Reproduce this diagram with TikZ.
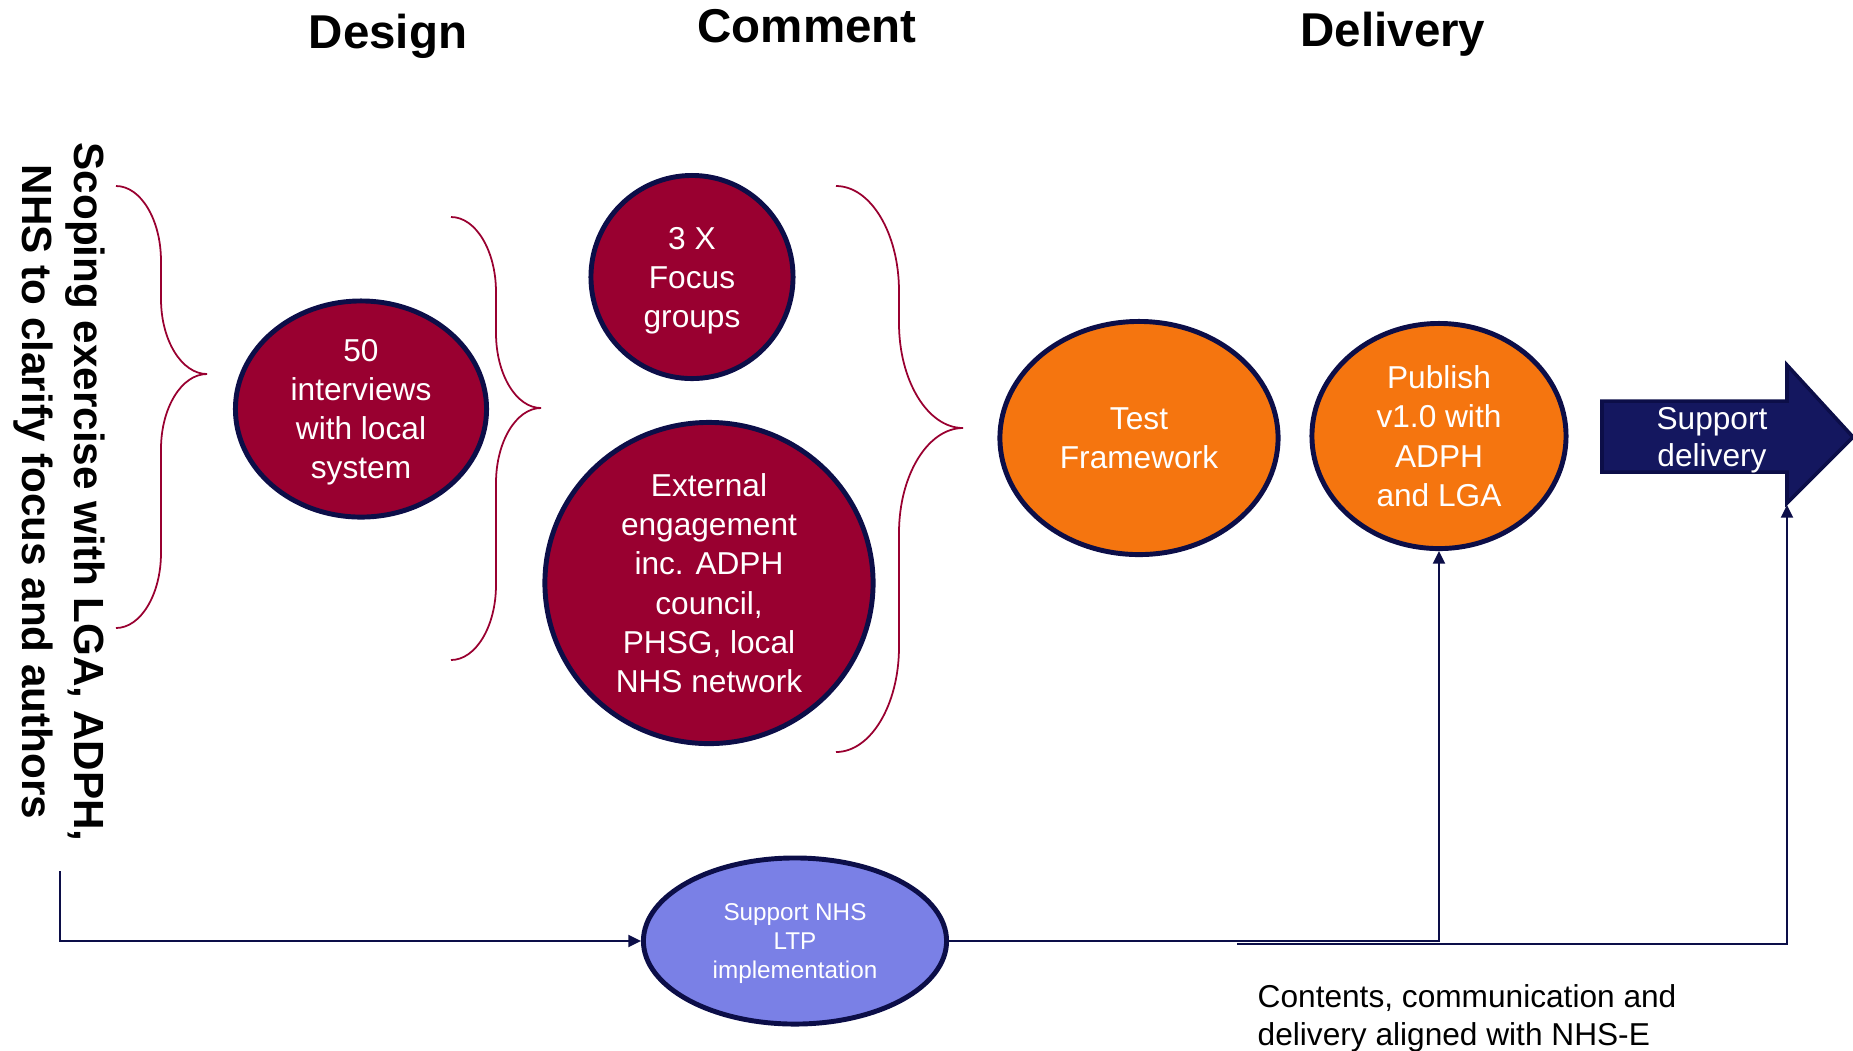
\documentclass[tikz,border=0pt]{standalone}
\usepackage{fontspec}
\setmainfont{Liberation Sans}
\usetikzlibrary{shapes.geometric,arrows.meta}
\definecolor{crim}{HTML}{990030}
\definecolor{navyb}{HTML}{0C0E48}
\definecolor{orng}{HTML}{F5750F}
\definecolor{lpurp}{HTML}{7A80E6}
\definecolor{arrfill}{HTML}{14175F}
\tikzset{
  bub/.style={ellipse, draw=navyb, line width=1.4pt, fill=crim, text=white,
    align=center, inner sep=0pt, text depth=-0.6pt, font=\fontsize{9}{11.1}\selectfont},
  orbub/.style={bub, fill=orng},
  nhsbub/.style={bub, fill=lpurp, font=\fontsize{6.9}{8.2}\selectfont},
  title/.style={font=\fontsize{13.5}{16}\selectfont\bfseries, anchor=base},
  brc/.style={draw=crim, line width=0.5pt},
  conn/.style={draw=navyb, line width=0.6pt},
  arr/.style={conn, -{Triangle[width=3.4pt,length=3.6pt]}},
}
\newcommand\crbrace[7]{% xe, xv, xt, yt, yc, yb, ry
  \pgfmathsetmacro\rxa{#2-#1}\pgfmathsetmacro\rxb{#3-#2}
  \draw[brc] (#1,#4) .. controls ({#1+0.55*\rxa},#4) and (#2,{#4+0.45*#7}) .. (#2,{#4+#7})
    -- (#2,{#5-#7}) .. controls (#2,{#5-0.45*#7}) and ({#2+0.45*\rxb},#5) .. (#3,#5)
    .. controls ({#2+0.45*\rxb},#5) and (#2,{#5+0.45*#7}) .. (#2,{#5+#7})
    -- (#2,{#6-#7}) .. controls (#2,{#6-0.45*#7}) and ({#1+0.55*\rxa},#6) .. (#1,#6);}
\begin{document}
\begin{tikzpicture}[x=0.01cm,y=-0.01cm]
\useasboundingbox (0,0) rectangle (1853,1050);

% titles
\node[title] (tdesign) at (388,48) {Design};
\node[title] (tcomment) at (807,42) {Comment};
\node[title] (tdelivery) at (1393,46) {Delivery};

% scoping text
\node[rotate=-90, align=center, inner sep=0pt,
  font=\fontsize{12}{14.8}\selectfont\bfseries] (scope) at (59,492)
  {Scoping exercise with LGA, ADPH,\\NHS to clarify focus and authors};

% braces
\crbrace{116}{161}{207}{186}{374}{628}{75}
\crbrace{451}{496}{541}{217}{408}{660}{75}
\crbrace{836}{899}{963}{186}{428}{752}{105}

% bubbles
\node[bub, minimum width=2.51cm, minimum height=2.16cm] (interv) at (361,409)
  {50\\interviews\\with local\\system};
\node[bub, minimum width=2.02cm, minimum height=2.03cm] (focus) at (692,277)
  {3 X\\Focus\\groups};
\node[bub, minimum width=3.28cm, minimum height=3.21cm] (ext) at (709,583)
  {External\\engagement\\inc. ADPH\\council,\\PHSG, local\\NHS network};
\node[orbub, minimum width=2.78cm, minimum height=2.33cm] (test) at (1139,438)
  {Test\\Framework};
\node[orbub, minimum width=2.54cm, minimum height=2.25cm] (pub) at (1439,436)
  {Publish\\v1.0 with\\ADPH\\and LGA};
\node[nhsbub, minimum width=3.03cm, minimum height=1.66cm] (nhs) at (795,941)
  {Support NHS\\LTP\\implementation};

% support delivery arrow
\draw[fill=arrfill, draw=navyb, line width=1pt]
  (1602,401) -- (1787,401) -- (1787,365) -- (1853,437) -- (1787,503)
  -- (1787,472) -- (1602,472) -- cycle;
\node[align=center, text=white, inner sep=0pt, text depth=-0.6pt,
  font=\fontsize{9}{10.5}\selectfont] (sdel) at (1712,437) {Support\\delivery};
\coordinate (sdbase) at (1787,505);

% connectors
\coordinate (scopeout) at (60,871);
\coordinate (c2start) at (1237,944);
\draw[arr] (scopeout) |- (nhs.west);
\draw[arr] (nhs.east) -| (pub.south);
\draw[arr] (c2start) -| (sdbase);

% bottom text
\node[anchor=north west, align=left, inner sep=0pt,
  font=\fontsize{9}{10.8}\selectfont] (contents) at (1257,984)
  {Contents, communication and\\delivery aligned with NHS-E};
\end{tikzpicture}
\end{document}
